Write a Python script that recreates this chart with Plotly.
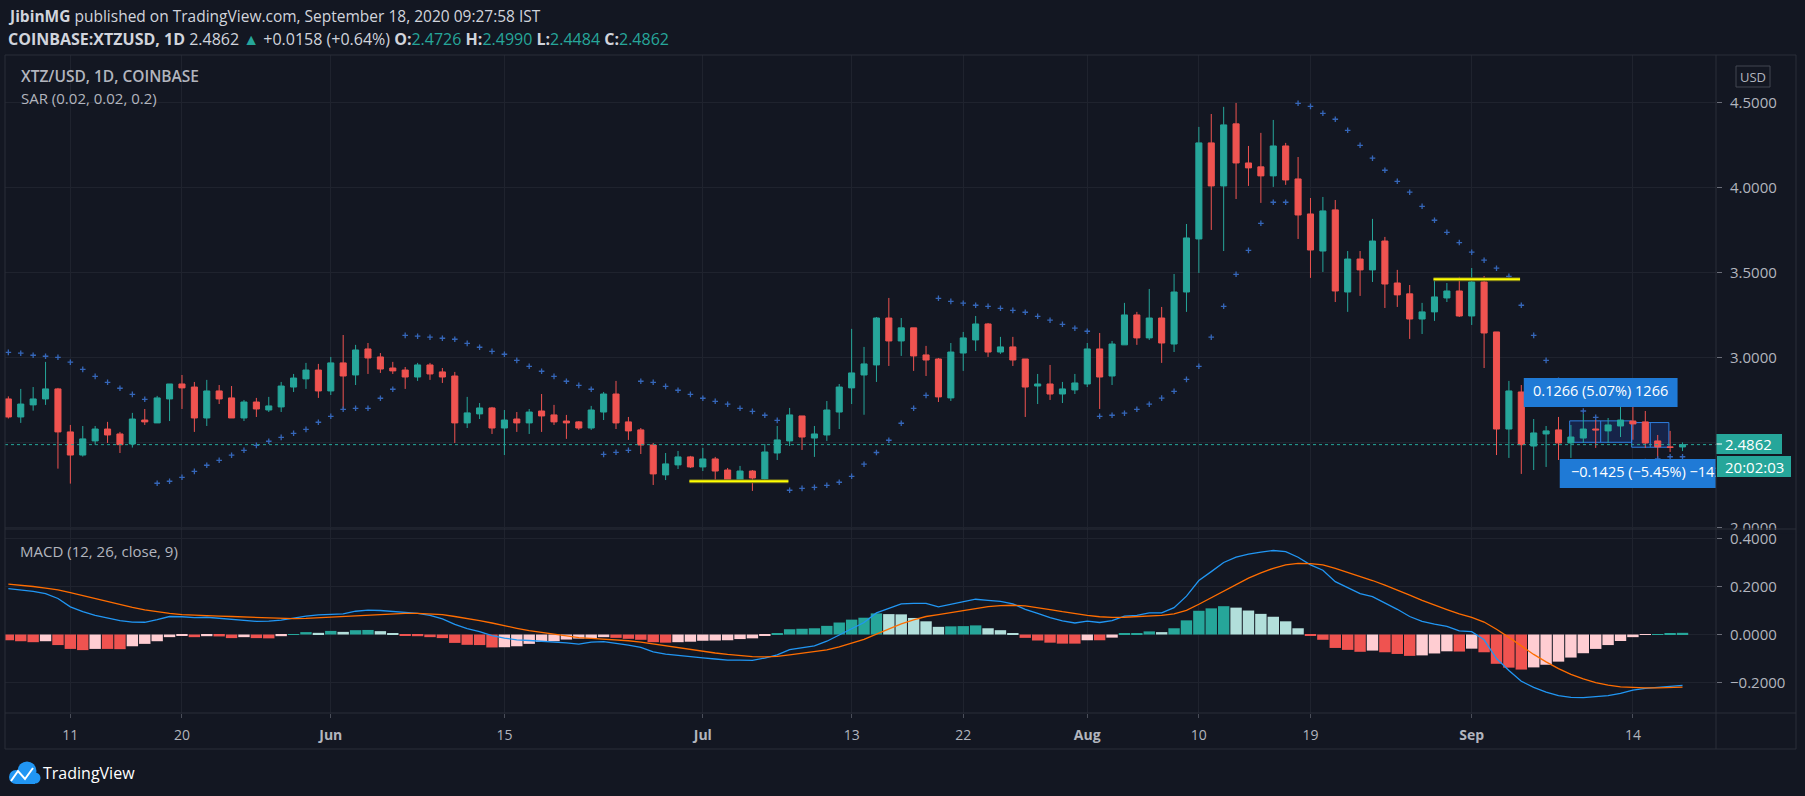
import plotly.graph_objects as go
from plotly.subplots import make_subplots
import pandas as pd

# ---------------- data ----------------
start_date = "2020-05-06"

open_ = [2.755, 2.649, 2.720, 2.755, 2.814, 2.561, 2.425, 2.508, 2.578, 2.549,
         2.490, 2.631, 2.614, 2.755, 2.843, 2.825, 2.643, 2.802, 2.761, 2.643,
         2.737, 2.690, 2.708, 2.825, 2.873, 2.925, 2.802, 2.967, 2.896, 3.049,
         3.002, 2.937, 2.925, 2.884, 2.955, 2.914, 2.890, 2.614, 2.667, 2.702,
         2.584, 2.637, 2.614, 2.684, 2.661, 2.625, 2.620, 2.584, 2.678, 2.784,
         2.620, 2.573, 2.484, 2.308, 2.367, 2.414, 2.355, 2.402, 2.337, 2.273,
         2.331, 2.284, 2.437, 2.508, 2.655, 2.525, 2.543, 2.678, 2.820, 2.896,
         2.955, 3.231, 3.096, 3.173, 3.014, 2.990, 2.761, 3.025, 3.102, 3.196,
         3.031, 3.061, 2.990, 2.831, 2.843, 2.784, 2.808, 2.843, 3.049, 2.890,
         3.073, 3.249, 3.114, 3.231, 3.078, 3.384, 3.696, 4.261, 4.008, 4.373,
         4.143, 4.120, 4.067, 4.243, 4.049, 3.843, 3.625, 3.867, 3.384, 3.578,
         3.514, 3.684, 3.437, 3.373, 3.225, 3.267, 3.349, 3.390, 3.243, 3.443,
         3.149, 2.578, 2.796, 2.478, 2.549, 2.573, 2.496, 2.525, 2.578, 2.567,
         2.596, 2.625, 2.620, 2.508, 2.473, 2.4726]
high = [2.770, 2.814, 2.825, 2.973, 2.820, 2.602, 2.596, 2.596, 2.620, 2.561,
        2.673, 2.696, 2.773, 2.843, 2.896, 2.855, 2.867, 2.837, 2.831, 2.749,
        2.761, 2.767, 2.855, 2.902, 2.967, 2.961, 3.002, 3.131, 3.073, 3.084,
        3.025, 2.973, 2.943, 2.967, 2.967, 2.937, 2.914, 2.767, 2.731, 2.708,
        2.690, 2.678, 2.696, 2.784, 2.720, 2.661, 2.625, 2.714, 2.796, 2.861,
        2.649, 2.584, 2.496, 2.437, 2.449, 2.420, 2.467, 2.414, 2.349, 2.361,
        2.337, 2.490, 2.596, 2.702, 2.655, 2.596, 2.743, 2.843, 3.167, 3.061,
        3.237, 3.349, 3.231, 3.173, 3.067, 2.996, 3.084, 3.149, 3.243, 3.202,
        3.120, 3.120, 2.990, 2.902, 2.955, 2.855, 2.902, 3.084, 3.143, 3.096,
        3.320, 3.267, 3.402, 3.296, 3.490, 3.784, 4.355, 4.431, 4.473, 4.496,
        4.243, 4.320, 4.396, 4.261, 4.178, 3.937, 3.943, 3.925, 3.625, 3.625,
        3.814, 3.708, 3.514, 3.425, 3.320, 3.452, 3.437, 3.473, 3.525, 3.478,
        3.149, 2.861, 2.837, 2.637, 2.596, 2.649, 2.602, 2.667, 2.631, 2.643,
        2.749, 2.708, 2.684, 2.543, 2.567, 2.4990]
low = [2.640, 2.614, 2.686, 2.720, 2.345, 2.257, 2.416, 2.486, 2.496, 2.437,
       2.469, 2.602, 2.614, 2.625, 2.696, 2.561, 2.596, 2.725, 2.643, 2.625,
       2.649, 2.678, 2.678, 2.796, 2.814, 2.761, 2.778, 2.690, 2.837, 2.902,
       2.908, 2.902, 2.814, 2.861, 2.867, 2.849, 2.496, 2.584, 2.637, 2.549,
       2.425, 2.561, 2.549, 2.561, 2.602, 2.520, 2.573, 2.573, 2.631, 2.578,
       2.514, 2.431, 2.249, 2.278, 2.343, 2.349, 2.331, 2.273, 2.267, 2.267,
       2.214, 2.267, 2.396, 2.478, 2.455, 2.414, 2.508, 2.578, 2.725, 2.662,
       2.855, 2.949, 3.008, 2.920, 2.890, 2.737, 2.743, 2.920, 3.037, 3.002,
       3.020, 2.949, 2.649, 2.725, 2.749, 2.731, 2.784, 2.825, 2.696, 2.837,
       3.073, 3.073, 3.102, 2.967, 3.031, 3.267, 3.496, 3.749, 3.625, 3.931,
       4.008, 3.908, 4.002, 4.014, 3.696, 3.467, 3.502, 3.325, 3.267, 3.361,
       3.443, 3.290, 3.296, 3.108, 3.137, 3.214, 3.325, 3.237, 3.190, 2.937,
       2.425, 2.408, 2.314, 2.337, 2.355, 2.396, 2.408, 2.496, 2.467, 2.496,
       2.531, 2.515, 2.467, 2.408, 2.443, 2.4484]
close = [2.649, 2.725, 2.755, 2.814, 2.561, 2.425, 2.520, 2.578, 2.543, 2.486,
         2.637, 2.620, 2.761, 2.843, 2.820, 2.643, 2.802, 2.755, 2.643, 2.737,
         2.696, 2.714, 2.831, 2.878, 2.925, 2.802, 2.967, 2.890, 3.043, 2.996,
         2.931, 2.920, 2.884, 2.955, 2.902, 2.884, 2.614, 2.673, 2.702, 2.584,
         2.631, 2.614, 2.678, 2.655, 2.620, 2.614, 2.584, 2.690, 2.784, 2.614,
         2.567, 2.484, 2.314, 2.373, 2.414, 2.355, 2.402, 2.331, 2.273, 2.331,
         2.290, 2.443, 2.514, 2.661, 2.531, 2.549, 2.690, 2.825, 2.908, 2.961,
         3.231, 3.096, 3.173, 3.008, 2.984, 2.767, 3.031, 3.114, 3.196, 3.031,
         3.061, 2.984, 2.825, 2.843, 2.784, 2.814, 2.849, 3.049, 2.884, 3.078,
         3.249, 3.114, 3.231, 3.084, 3.384, 3.702, 4.261, 4.008, 4.367, 4.143,
         4.114, 4.067, 4.243, 4.043, 3.837, 3.631, 3.861, 3.390, 3.578, 3.514,
         3.684, 3.431, 3.367, 3.225, 3.267, 3.355, 3.390, 3.243, 3.443, 3.143,
         2.578, 2.802, 2.486, 2.555, 2.567, 2.496, 2.531, 2.578, 2.573, 2.602,
         2.631, 2.608, 2.496, 2.473, 2.4704, 2.4862]

sar = [3.029, 3.024, 3.012, 3.006, 3.000, 2.971, 2.929, 2.888, 2.853, 2.818,
       2.782, 2.753, 2.259, 2.271, 2.294, 2.329, 2.365, 2.394, 2.424, 2.453,
       2.482, 2.506, 2.529, 2.553, 2.576, 2.618, 2.653, 2.694, 2.700, 2.700,
       2.759, 2.812, 3.129, 3.124, 3.118, 3.112, 3.106, 3.082, 3.059, 3.035,
       3.018, 2.982, 2.947, 2.918, 2.888, 2.859, 2.835, 2.812, 2.429, 2.441,
       2.453, 2.859, 2.853, 2.829, 2.806, 2.782, 2.759, 2.741, 2.724, 2.700,
       2.682, 2.659, 2.629, 2.218, 2.229, 2.235, 2.247, 2.265, 2.300, 2.371,
       2.440, 2.512, 2.612, 2.700, 2.776, 3.347, 3.329, 3.318, 3.306, 3.300,
       3.288, 3.276, 3.265, 3.241, 3.218, 3.194, 3.171, 3.153, 2.653, 2.659,
       2.671, 2.694, 2.724, 2.760, 2.800, 2.870, 2.947, 3.118, 3.300, 3.488,
       3.629, 3.788, 3.912, 3.912, 4.494, 4.476, 4.435, 4.400, 4.335, 4.247,
       4.171, 4.100, 4.035, 3.971, 3.888, 3.806, 3.735, 3.675, 3.618, 3.571,
       3.524, 3.476, 3.306, 3.129, 2.982, 2.865, 2.770, 2.684, 2.647, 2.330,
       2.345, 2.366, 2.386, 2.402, 2.415, 2.415]

macd = [0.191, 0.185, 0.180, 0.170, 0.150, 0.115, 0.095, 0.080, 0.068, 0.058,
        0.052, 0.051, 0.062, 0.075, 0.074, 0.070, 0.072, 0.068, 0.062, 0.058,
        0.055, 0.056, 0.060, 0.068, 0.077, 0.082, 0.085, 0.086, 0.097, 0.102,
        0.100, 0.096, 0.092, 0.088, 0.080, 0.065, 0.042, 0.025, 0.012, -0.005,
        -0.015, -0.022, -0.025, -0.028, -0.030, -0.035, -0.040, -0.032, -0.030, -0.036,
        -0.044, -0.054, -0.072, -0.082, -0.088, -0.094, -0.097, -0.102, -0.107, -0.107,
        -0.108, -0.098, -0.085, -0.063, -0.055, -0.047, -0.028, -0.002, 0.025, 0.050,
        0.090, 0.108, 0.128, 0.130, 0.130, 0.115, 0.125, 0.135, 0.147, 0.142,
        0.138, 0.128, 0.105, 0.088, 0.070, 0.057, 0.048, 0.056, 0.050, 0.058,
        0.077, 0.080, 0.090, 0.090, 0.112, 0.160, 0.225, 0.262, 0.300, 0.322,
        0.335, 0.343, 0.350, 0.345, 0.322, 0.290, 0.268, 0.220, 0.196, 0.170,
        0.158, 0.132, 0.105, 0.075, 0.055, 0.043, 0.034, 0.015, 0.012, -0.022,
        -0.100, -0.150, -0.195, -0.220, -0.240, -0.255, -0.262, -0.263, -0.260, -0.255,
        -0.245, -0.232, -0.224, -0.220, -0.216, -0.212]

signal = [0.210, 0.206, 0.200, 0.193, 0.186, 0.175, 0.162, 0.150, 0.138, 0.125,
          0.113, 0.103, 0.095, 0.088, 0.083, 0.080, 0.078, 0.077, 0.075, 0.073,
          0.070, 0.068, 0.066, 0.066, 0.067, 0.070, 0.072, 0.074, 0.077, 0.082,
          0.085, 0.087, 0.088, 0.088, 0.087, 0.083, 0.075, 0.068, 0.058, 0.048,
          0.036, 0.026, 0.016, 0.008, 0.001, -0.006, -0.013, -0.016, -0.019, -0.022,
          -0.026, -0.032, -0.040, -0.048, -0.056, -0.064, -0.071, -0.077, -0.083, -0.088,
          -0.092, -0.093, -0.091, -0.085, -0.079, -0.073, -0.064, -0.052, -0.037, -0.020,
          0.002, 0.023, 0.044, 0.061, 0.075, 0.083, 0.091, 0.100, 0.109, 0.116,
          0.120, 0.122, 0.119, 0.113, 0.104, 0.095, 0.086, 0.080, 0.074, 0.071,
          0.072, 0.074, 0.077, 0.080, 0.086, 0.101, 0.126, 0.153, 0.182, 0.210,
          0.235, 0.257, 0.276, 0.290, 0.296, 0.295, 0.290, 0.276, 0.260, 0.242,
          0.225, 0.206, 0.186, 0.164, 0.142, 0.122, 0.104, 0.086, 0.071, 0.052,
          0.022, -0.012, -0.049, -0.083, -0.114, -0.142, -0.166, -0.185, -0.200, -0.211,
          -0.218, -0.221, -0.222, -0.222, -0.221, -0.219]

hist = [-0.024, -0.028, -0.032, -0.028, -0.044, -0.060, -0.065, -0.060, -0.060, -0.061,
        -0.049, -0.039, -0.028, -0.011, -0.004, -0.011, -0.007, -0.008, -0.015, -0.011,
        -0.015, -0.016, -0.007, 0.001, 0.010, 0.007, 0.015, 0.011, 0.018, 0.019,
        0.014, 0.006, -0.003, -0.007, -0.011, -0.015, -0.035, -0.043, -0.044, -0.054,
        -0.053, -0.049, -0.039, -0.031, -0.028, -0.021, -0.017, -0.016, -0.011, -0.014,
        -0.018, -0.022, -0.032, -0.034, -0.032, -0.030, -0.026, -0.025, -0.024, -0.019,
        -0.016, -0.005, 0.006, 0.022, 0.024, 0.026, 0.036, 0.050, 0.062, 0.070,
        0.088, 0.085, 0.084, 0.069, 0.055, 0.032, 0.034, 0.035, 0.038, 0.026,
        0.018, 0.006, -0.014, -0.025, -0.034, -0.038, -0.038, -0.024, -0.024, -0.013,
        0.005, 0.006, 0.013, 0.010, 0.026, 0.059, 0.099, 0.109, 0.118, 0.112,
        0.100, 0.086, 0.074, 0.055, 0.026, -0.005, -0.022, -0.056, -0.064, -0.072,
        -0.067, -0.074, -0.081, -0.089, -0.087, -0.079, -0.070, -0.071, -0.059, -0.074,
        -0.122, -0.138, -0.146, -0.137, -0.126, -0.113, -0.096, -0.078, -0.060, -0.044,
        -0.027, -0.011, -0.002, 0.002, 0.005, 0.007]

price_ticks = [2.0, 2.5, 3.0, 3.5, 4.0, 4.5]
price_tick_text = ["2.0000", "2.5000", "3.0000", "3.5000", "4.0000", "4.5000"]
macd_ticks = [-0.2, 0.0, 0.2, 0.4]
macd_tick_text = ["\u22120.2000", "0.0000", "0.2000", "0.4000"]
time_ticks = ["2020-05-11", "2020-05-20", "2020-06-01", "2020-06-15", "2020-07-01",
              "2020-07-13", "2020-07-22", "2020-08-01", "2020-08-10", "2020-08-19",
              "2020-09-01", "2020-09-14"]
time_tick_text = ["11", "20", "<b>Jun</b>", "15", "<b>Jul</b>", "13", "22",
                  "<b>Aug</b>", "10", "19", "<b>Sep</b>", "14"]
last_price = 2.4862

# ---------------- styling ----------------
BG = "#131722"
GRID = "#1f232e"
BORDER = "#2a2e39"
TXT = "#b2b5be"
UP = "#26a69a"
DN = "#ef5350"
SAR_C = "#3566b8"
LBL = "#1f7ad6"
FONT = "Open Sans"

W, H = 1805, 796
L, R, T, B = 5, 1716, 55, 713


def px(x):
    return (x - L) / (R - L)


def py(y):
    return (B - y) / (B - T)


t0 = pd.Timestamp(start_date)


def day(i):
    return t0 + pd.Timedelta(days=i)


dates = pd.date_range(start_date, periods=len(close), freq="D")

# histogram colours (TradingView rule)
hcol = []
for k, h in enumerate(hist):
    prev = hist[k - 1] if k > 0 else h
    if h >= 0:
        hcol.append("#26a69a" if h >= prev else "#b2dfdb")
    else:
        hcol.append("#ffcdd2" if h > prev else "#ef5350")

fig = make_subplots(rows=2, cols=1, shared_xaxes=True, vertical_spacing=0)

fig.add_trace(go.Candlestick(
    x=dates, open=open_, high=high, low=low, close=close,
    increasing=dict(line=dict(color=UP, width=1), fillcolor=UP),
    decreasing=dict(line=dict(color=DN, width=1), fillcolor=DN),
    whiskerwidth=0, hoverinfo="skip", showlegend=False), row=1, col=1)

fig.add_trace(go.Scatter(
    x=dates, y=sar, mode="markers",
    marker=dict(symbol="cross-thin", size=4, color=SAR_C, line=dict(width=1.3, color=SAR_C)),
    hoverinfo="skip", showlegend=False), row=1, col=1)

# measurement labels (clipped by the plot area like the original)
ub = dict(x0=122.2, x1=134.6, y0=2.708, y1=2.878)
lb = dict(x0=125.1, x1=141.0, y0=2.231, y1=2.402)
for bx in (ub, lb):
    fig.add_trace(go.Scatter(
        x=[day(bx["x0"]), day(bx["x1"]), day(bx["x1"]), day(bx["x0"]), day(bx["x0"])],
        y=[bx["y0"], bx["y0"], bx["y1"], bx["y1"], bx["y0"]],
        mode="lines", fill="toself", fillcolor=LBL, line=dict(width=0, color=LBL),
        hoverinfo="skip", showlegend=False), row=1, col=1)
fig.add_trace(go.Scatter(
    x=[day(128.4)], y=[2.793], mode="text", text=["0.1266 (5.07%) 1266"],
    textfont=dict(color="#ffffff", size=14.5, family=FONT), textposition="middle center",
    hoverinfo="skip", showlegend=False), row=1, col=1)
fig.add_trace(go.Scatter(
    x=[day(126.0)], y=[2.3165], mode="text", text=["\u22120.1425 (\u22125.45%) \u22121425"],
    textfont=dict(color="#ffffff", size=14.5, family=FONT), textposition="middle right",
    cliponaxis=True, hoverinfo="skip", showlegend=False), row=1, col=1)

fig.add_trace(go.Bar(
    x=dates, y=hist, marker=dict(color=hcol, line=dict(width=0)),
    hoverinfo="skip", showlegend=False), row=2, col=1)
fig.add_trace(go.Scatter(
    x=dates, y=macd, mode="lines", line=dict(color="#2196f3", width=1.3),
    hoverinfo="skip", showlegend=False), row=2, col=1)
fig.add_trace(go.Scatter(
    x=dates, y=signal, mode="lines", line=dict(color="#ff6d00", width=1.3),
    hoverinfo="skip", showlegend=False), row=2, col=1)

xr = [day(-0.27), day(137.7)]
split = (B - 529) / (B - T)

fig.update_layout(
    width=W, height=H, margin=dict(l=L, r=W - R, t=T, b=H - B),
    paper_bgcolor=BG, plot_bgcolor=BG, showlegend=False, hovermode=False,
    bargap=0.08, font=dict(family=FONT, color=TXT),
    xaxis=dict(type="date", range=xr, rangeslider=dict(visible=False),
               tickvals=time_ticks, showticklabels=False, showgrid=True, gridcolor=GRID,
               gridwidth=1, zeroline=False, showline=False, ticks=""),
    xaxis2=dict(type="date", range=xr, rangeslider=dict(visible=False),
                tickvals=time_ticks, ticktext=time_tick_text, showgrid=True, gridcolor=GRID,
                zeroline=False, showline=False, ticks="outside", ticklen=4, tickcolor="#4a4e59",
                tickfont=dict(size=14, color=TXT, family=FONT), ticklabelstandoff=5),
    yaxis=dict(domain=[split, 1], side="right", range=[1.990, 4.778],
               tickvals=price_ticks, ticktext=price_tick_text, showgrid=True, gridcolor=GRID,
               zeroline=False, showline=False, ticks="outside", ticklen=5, tickcolor="#6a6d78",
               tickfont=dict(size=15, color=TXT, family=FONT), ticklabelstandoff=5),
    yaxis2=dict(domain=[0, split], side="right", range=[-0.327, 0.4396],
                tickvals=macd_ticks, ticktext=macd_tick_text, showgrid=True, gridcolor=GRID,
                zeroline=False, showline=False, ticks="outside", ticklen=5, tickcolor="#6a6d78",
                tickfont=dict(size=15, color=TXT, family=FONT), ticklabelstandoff=5),
)

shapes = []


def prect(x0, y0, x1, y1, fill, line=None, layer="above", lw=1):
    shapes.append(dict(type="rect", xref="paper", yref="paper",
                       x0=px(x0), x1=px(x1), y0=py(y1), y1=py(y0),
                       fillcolor=fill, line=dict(color=line or fill, width=lw if line else 0),
                       layer=layer))


def pline(x0, y0, x1, y1, color=BORDER, w=1, layer="above"):
    shapes.append(dict(type="line", xref="paper", yref="paper",
                       x0=px(x0), x1=px(x1), y0=py(y0), y1=py(y1),
                       line=dict(color=color, width=w), layer=layer))


# cover lower half of the clipped "2.0000" label
prect(1717, 530, 1800, 533.5, BG)

# measurement rectangles
for (a, b, lo, hi) in [(125.9, 130.9, 2.500, 2.626), (130.9, 133.9, 2.471, 2.616)]:
    shapes.append(dict(type="rect", xref="x", yref="y", x0=day(a), x1=day(b), y0=lo, y1=hi,
                       fillcolor="rgba(41,98,255,0.18)", line=dict(color="#2e7fe0", width=1),
                       layer="between"))
shapes.append(dict(type="line", xref="x", yref="y", x0=day(128.4), x1=day(128.4), y0=2.500, y1=2.626,
                   line=dict(color="#2e7fe0", width=1), layer="above"))
shapes.append(dict(type="line", xref="x", yref="y", x0=day(132.4), x1=day(132.4), y0=2.616, y1=2.471,
                   line=dict(color="#2e7fe0", width=1), layer="above"))

# yellow horizontal drawings
for (a, b, lv) in [(54.92, 62.9, 2.271), (114.92, 121.9, 3.459)]:
    shapes.append(dict(type="line", xref="x", yref="y", x0=day(a), x1=day(b), y0=lv, y1=lv,
                       line=dict(color="#6b6a1e", width=4), layer="above"))
    shapes.append(dict(type="line", xref="x", yref="y", x0=day(a), x1=day(b), y0=lv, y1=lv,
                       line=dict(color="#ffff00", width=2), layer="above"))

# last price dotted line
shapes.append(dict(type="line", xref="paper", yref="y", x0=0, x1=1, y0=last_price, y1=last_price,
                   line=dict(color=UP, width=1, dash="dot"), layer="above"))

# price / countdown labels
prect(1716, 434, 1782, 454, UP)
prect(1717, 456, 1791, 477, UP)
pline(1716, 444, 1722, 444, color="#ffffff")

# USD box
shapes.append(dict(type="rect", xref="paper", yref="paper", x0=px(1736), x1=px(1770),
                   y0=py(87), y1=py(66), fillcolor="rgba(0,0,0,0)",
                   line=dict(color="#434651", width=1), layer="above"))

# frame lines
pline(5, 55, 1796, 55)
pline(5, 749, 1796, 749)
pline(5, 55, 5, 749)
pline(1796, 55, 1796, 749)
pline(5, 529, 1796, 529)
pline(5, 713, 1796, 713)
pline(1716, 55, 1716, 749)

# TradingView logo (simple cloud)
for (cx, cy, r) in [(16, 777, 7), (27, 771, 9.5), (35, 778, 5.5)]:
    shapes.append(dict(type="circle", xref="paper", yref="paper",
                       x0=px(cx - r), x1=px(cx + r), y0=py(cy + r), y1=py(cy - r),
                       fillcolor="#2196f3", line=dict(width=0), layer="above"))
prect(16, 776, 35, 784, "#2196f3")
shapes.append(dict(type="path", xref="paper", yref="paper",
                   path="M {} {} L {} {} L {} {} L {} {}".format(
                       px(11), py(781), px(18), py(771), px(25), py(779), px(33), py(768)),
                   line=dict(color="#ffffff", width=2), layer="above"))

fig.update_layout(shapes=shapes)

ann = []


def text(x, y, s, size=15, color=TXT, xanchor="left", weight=None):
    f = dict(size=size, color=color, family=FONT)
    if weight:
        f["weight"] = weight
    ann.append(dict(x=px(x), y=py(y), xref="paper", yref="paper", text=s, showarrow=False,
                    xanchor=xanchor, yanchor="middle", font=f))


G = "<span style='color:#26a69a'>{}</span>"
text(6, 16, "<b>JibinMG</b> published on TradingView.com, September 18, 2020 09:27:58 IST",
     size=15.5, color="#d1d4dc")
text(6, 39, "<b>COINBASE:XTZUSD, 1D</b> 2.4862 " + G.format("\u25b2") + " +0.0158 (+0.64%) "
     "<b>O:</b>" + G.format("2.4726") + " <b>H:</b>" + G.format("2.4990") +
     " <b>L:</b>" + G.format("2.4484") + " <b>C:</b>" + G.format("2.4862"),
     size=16, color="#d1d4dc")
text(19, 76, "XTZ/USD, 1D, COINBASE", size=15.5, color=TXT, weight=600)
text(19, 98, "SAR (0.02, 0.02, 0.2)", size=15, color=TXT)
text(18, 551, "MACD (12, 26, close, 9)", size=15, color=TXT)
text(1753, 76.5, "USD", size=13, color=TXT, xanchor="center")
text(1749, 444, "2.4862", size=15, color="#ffffff", xanchor="center")
text(1754, 466.5, "20:02:03", size=15, color="#ffffff", xanchor="center")
text(41, 773, "TradingView", size=16, color="#ffffff")
fig.update_layout(annotations=ann)

fig.write_html("out.html", config={"displayModeBar": False},
               post_script="document.body.style.margin='0px';")
